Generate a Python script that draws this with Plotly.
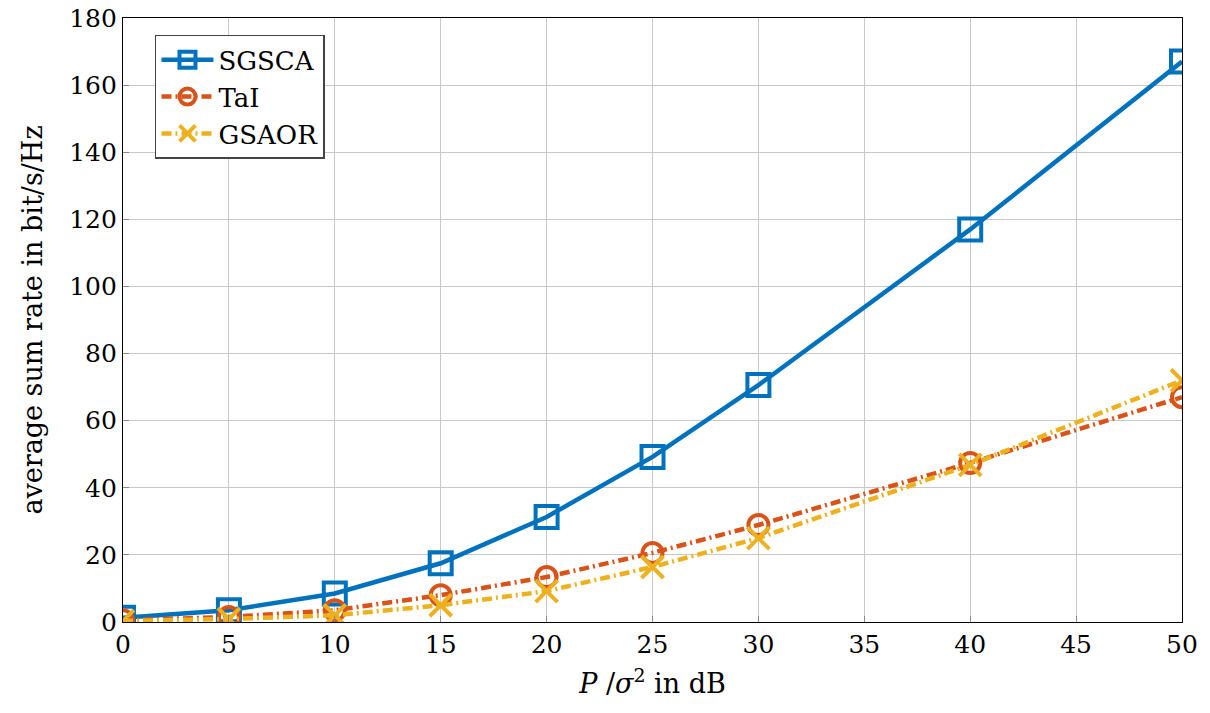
import plotly.graph_objects as go

x_vals = [0, 5, 10, 15, 20, 25, 30, 40, 50]
sgsca = [1.3, 3.5, 8.5, 17.5, 31.3, 49.2, 70.6, 117.0, 167.0]
tai = [0.5, 1.5, 3.5, 8.0, 13.4, 20.6, 28.9, 47.4, 67.0]
gsaor = [0.3, 0.9, 2.0, 5.0, 9.2, 16.4, 25.0, 46.8, 72.0]

names = ["SGSCA", "TaI", "GSAOR"]
x_ticks = [0, 5, 10, 15, 20, 25, 30, 35, 40, 45, 50]
y_ticks = [0, 20, 40, 60, 80, 100, 120, 140, 160, 180]

FONT = "DejaVu Serif"
FS = 25

fig = go.Figure()
fig.add_trace(go.Scatter(
    x=x_vals, y=sgsca, name=names[0], mode="lines+markers",
    line=dict(color="#0072BD", width=4.5),
    marker=dict(symbol="square-open", size=22, color="#0072BD", line=dict(width=4, color="#0072BD")),
))
fig.add_trace(go.Scatter(
    x=x_vals, y=tai, name=names[1], mode="lines+markers",
    line=dict(color="#D95319", width=4.5, dash="10px,4px,2px,4px"),
    marker=dict(symbol="circle-open", size=20, color="#D95319", line=dict(width=4, color="#D95319")),
))
fig.add_trace(go.Scatter(
    x=x_vals, y=gsaor, name=names[2], mode="lines+markers",
    line=dict(color="#EDB120", width=4.5, dash="10px,4px,2px,4px"),
    marker=dict(symbol="x-thin-open", size=22, color="#EDB120", line=dict(width=4, color="#EDB120")),
))

fig.update_layout(
    width=1210, height=713,
    margin=dict(l=115, r=36, t=10, b=99),
    plot_bgcolor="white", paper_bgcolor="white",
    font=dict(family=FONT, size=FS, color="black"),
    showlegend=True,
    legend=dict(
        x=0.0302, y=0.972, xanchor="left", yanchor="top",
        bordercolor="#444444", borderwidth=1.5, bgcolor="white",
        font=dict(family=FONT, size=26),
        itemwidth=52, tracegroupgap=0,
    ),
)
fig.update_xaxes(
    range=[0, 50], tickvals=x_ticks,
    showgrid=True, gridcolor="#c8c8c8", gridwidth=1,
    showline=True, linecolor="black", linewidth=1.2, mirror=True,
    ticks="inside", ticklen=6, tickcolor="#888888",
    zeroline=False, automargin=False, ticklabeloverflow="allow",
    title=dict(text="<i>P</i> /<i>σ</i><sup>2</sup> in dB", font=dict(family=FONT, size=27), standoff=16),
)
fig.update_yaxes(
    range=[0, 180], tickvals=y_ticks,
    showgrid=True, gridcolor="#c8c8c8", gridwidth=1,
    showline=True, linecolor="black", linewidth=1.2, mirror=True,
    ticks="inside", ticklen=6, tickcolor="#888888",
    zeroline=False, automargin=False, ticklabeloverflow="allow",
    title=dict(text="average sum rate in bit/s/Hz", font=dict(family=FONT, size=27), standoff=18),
)

fig.write_html("out.html")
